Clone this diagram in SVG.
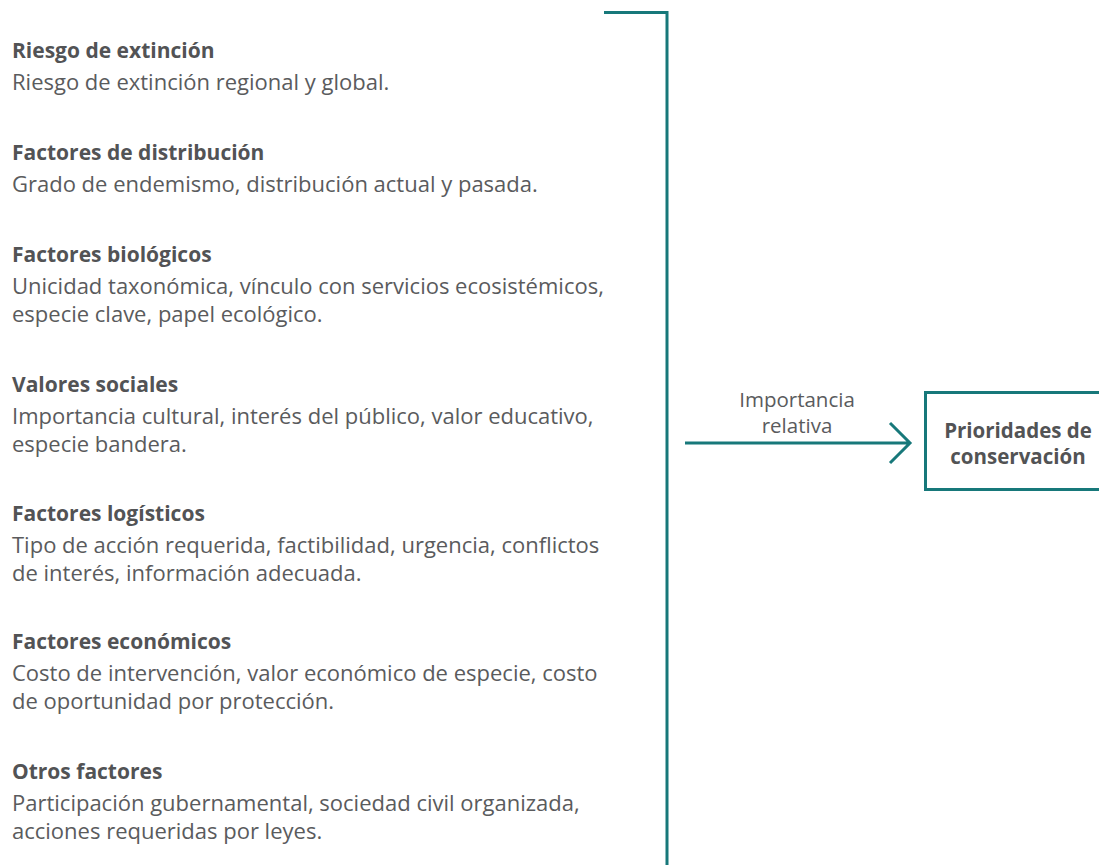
<svg xmlns="http://www.w3.org/2000/svg" width="1099" height="865" viewBox="0 0 1099 865">
<style>
text{font-family:"Open Sans","Noto Sans","Liberation Sans",sans-serif;fill:#5a5b5d;font-size:22px}
.h{font-weight:bold;fill:#525355;font-size:21px}
.lb{font-size:20.5px}
.ln{stroke:#17787a;stroke-width:3;fill:none}
.c{text-anchor:middle}
</style>
<rect width="1099" height="865" fill="#ffffff"/>
<g id="factors">
<g id="riesgo"><text class="h" x="12" y="58">Riesgo de extinción</text><text x="12" y="90">Riesgo de extinción regional y global.</text></g>
<g id="distribucion"><text class="h" x="12" y="160">Factores de distribución</text><text x="12" y="192">Grado de endemismo, distribución actual y pasada.</text></g>
<g id="biologicos"><text class="h" x="12" y="262">Factores biológicos</text><text x="12" y="294">Unicidad taxonómica, vínculo con servicios ecosistémicos,<tspan x="12" dy="28">especie clave, papel ecológico.</tspan></text></g>
<g id="sociales"><text class="h" x="12" y="392">Valores sociales</text><text x="12" y="424">Importancia cultural, interés del público, valor educativo,<tspan x="12" dy="28">especie bandera.</tspan></text></g>
<g id="logisticos"><text class="h" x="12" y="521">Factores logísticos</text><text x="12" y="553">Tipo de acción requerida, factibilidad, urgencia, conflictos<tspan x="12" dy="28">de interés, información adecuada.</tspan></text></g>
<g id="economicos"><text class="h" x="12" y="649">Factores económicos</text><text x="12" y="681">Costo de intervención, valor económico de especie, costo<tspan x="12" dy="28">de oportunidad por protección.</tspan></text></g>
<g id="otros"><text class="h" x="12" y="779">Otros factores</text><text x="12" y="811">Participación gubernamental, sociedad civil organizada,<tspan x="12" dy="28">acciones requeridas por leyes.</tspan></text></g>
</g>
<g id="connectors">
<path class="ln" d="M604 12.5H667V865"/>
<path class="ln" d="M685 443H910M890 423L910 443L890 463"/>
<text class="c lb" x="797" y="407">Importancia<tspan x="797" dy="26">relativa</tspan></text>
</g>
<g id="prioridades">
<rect class="ln" x="925.5" y="392.5" width="190" height="97"/>
<text class="h c lb" x="1018" y="438">Prioridades de<tspan x="1018" dy="26">conservación</tspan></text>
</g>
</svg>
